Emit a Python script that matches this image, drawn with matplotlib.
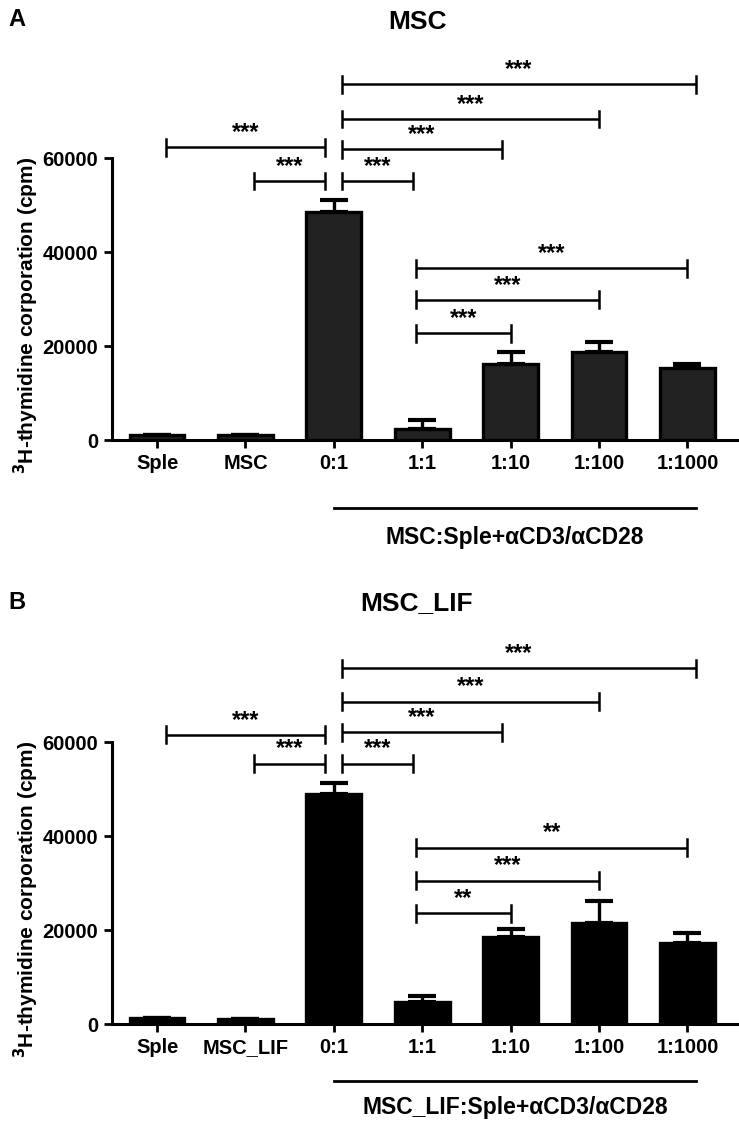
import matplotlib
matplotlib.use("Agg")
import matplotlib.pyplot as plt
import matplotlib.transforms as mtransforms

plt.rcParams['font.family'] = ['Liberation Sans', 'DejaVu Sans']
plt.rcParams['font.weight'] = 'bold'

# ---- data ----
groups_a = ['Sple', 'MSC', '0:1', '1:1', '1:10', '1:100', '1:1000']
groups_b = ['Sple', 'MSC_LIF', '0:1', '1:1', '1:10', '1:100', '1:1000']

mean_a = [1000, 1000, 48600, 2400, 16100, 18700, 15400]
err_a = [0, 0, 2500, 1900, 2600, 2200, 700]

mean_b = [1200, 1100, 49000, 4600, 18600, 21400, 17300]
err_b = [0, 0, 2300, 1300, 1600, 4800, 2000]

# significance brackets: (from group, to group, height, label)
sig_a = [(0, 2, 62300, '***'), (1, 2, 55100, '***'),
         (2, 3, 55100, '***'), (2, 4, 61900, '***'),
         (2, 5, 68300, '***'), (2, 6, 75700, '***'),
         (3, 4, 22700, '***'), (3, 5, 29800, '***'),
         (3, 6, 36500, '***')]
sig_b = [(0, 2, 61500, '***'), (1, 2, 55400, '***'),
         (2, 3, 55400, '***'), (2, 4, 62100, '***'),
         (2, 5, 68600, '***'), (2, 6, 75700, '***'),
         (3, 4, 23600, '**'), (3, 5, 30500, '***'),
         (3, 6, 37500, '**')]

group_label_a = 'MSC:Sple+\u03b1CD3/\u03b1CD28'
group_label_b = 'MSC_LIF:Sple+\u03b1CD3/\u03b1CD28'

W, H = 739, 1127
fig = plt.figure(figsize=(W / 100, H / 100), dpi=100)


def make_panel(rect, names, means, errs, sigs, fill, glabel, line_y, text_y):
    ax = fig.add_axes(rect)
    x = list(range(len(names)))
    ax.bar(x, means, width=0.62, color=fill, edgecolor='black', linewidth=2.4, zorder=3)
    ax.errorbar(x, means, yerr=[[0] * len(errs), errs], fmt='none', ecolor='black',
                elinewidth=2.4, capsize=10, capthick=3, zorder=2)

    ax.set_xlim(-0.51, 6.56)
    ax.set_ylim(0, 80000)
    ax.set_yticks([0, 20000, 40000, 60000])
    ax.set_xticks(x)
    ax.set_xticklabels(names)
    ax.spines['top'].set_visible(False)
    ax.spines['right'].set_visible(False)
    ax.spines['left'].set_bounds(0, 60000)
    ax.spines['left'].set_linewidth(2.2)
    ax.spines['bottom'].set_linewidth(2.2)
    ax.tick_params(axis='both', width=2, length=6, labelsize=14.5, pad=4)
    for lab in ax.get_xticklabels() + ax.get_yticklabels():
        lab.set_fontweight('bold')
    ax.set_ylabel('$\\mathbf{^{3}}$H-thymidine corporation (cpm)', fontsize=15,
                  fontweight='bold')

    # brackets
    tick_h = 1800
    for i, j, h, lab in sigs:
        x0 = i + (0.1 if i != 3 else -0.07)
        x1 = j - 0.1 if j == 2 or (i == 2 and j in (3, 4)) else j + (0.1 if i == 2 and j == 6 else 0)
        if i == 2:
            x0 = i + 0.09
        ax.plot([x0, x1], [h, h], color='black', lw=1.8, solid_capstyle='butt', clip_on=False)
        ax.plot([x0, x0], [h - tick_h, h + tick_h], color='black', lw=1.8, clip_on=False)
        ax.plot([x1, x1], [h - tick_h, h + tick_h], color='black', lw=1.8, clip_on=False)
        ax.text((x0 + x1) / 2, h + 700, lab, ha='center', va='bottom',
                fontsize=17, fontweight='bold')

    # group line under the axis
    trans = mtransforms.blended_transform_factory(ax.transData, ax.transAxes)
    ax.plot([2, 6.1], [line_y, line_y], color='black', lw=2, transform=trans, clip_on=False)
    ax.text(4.05, text_y, glabel, transform=trans, ha='center', va='center',
            fontsize=16.5, fontweight='bold')
    return ax


ax_a = make_panel([112 / W, 1 - 440 / H, 625 / W, 376 / H], groups_a, mean_a, err_a,
                  sig_a, '#222222', group_label_a, -0.18, -0.258)
ax_b = make_panel([112 / W, 1 - 1024 / H, 625 / W, 376 / H], groups_b, mean_b, err_b,
                  sig_b, 'black', group_label_b, -0.152, -0.222)

for ax in (ax_a, ax_b):
    ax.yaxis.set_label_coords(-0.113, 0.33)

fig.text(8 / W, 1 - 20 / H, 'A', fontsize=17, fontweight='bold', va='center')
fig.text(417 / W, 1 - 22 / H, 'MSC', fontsize=19, fontweight='bold', ha='center', va='center')
fig.text(8 / W, 1 - 603 / H, 'B', fontsize=17, fontweight='bold', va='center')
fig.text(417 / W, 1 - 603 / H, 'MSC_LIF', fontsize=19, fontweight='bold', ha='center', va='center')

fig.savefig('out.png', dpi=100)
